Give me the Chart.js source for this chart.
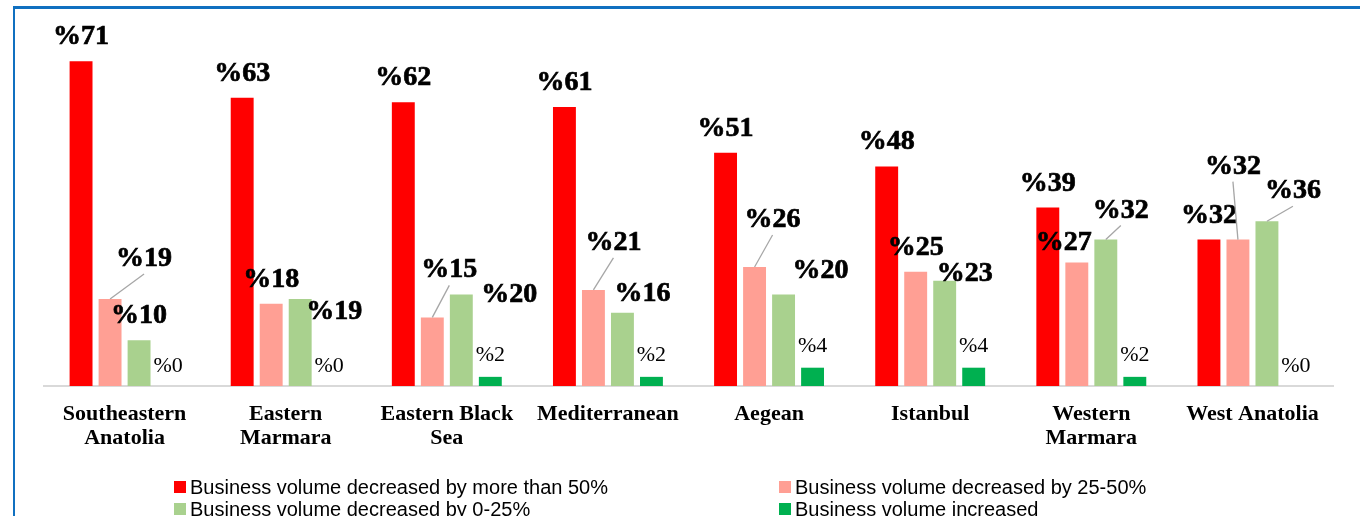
<!DOCTYPE html>
<html><head><meta charset="utf-8">
<script src="https://cdn.jsdelivr.net/npm/chart.js@4/dist/chart.umd.min.js"></script>
<style>
html,body{margin:0;padding:0;background:#fff;overflow:hidden}
#frame{position:absolute;left:13px;top:6px;width:1400px;height:600px;border-left:2px solid #1070C0;border-top:3px solid #1070C0;box-sizing:border-box}
#wrap{position:absolute;left:0;top:0;width:1360px;height:516px}
</style></head><body>
<div id="frame"></div>
<div id="wrap"><canvas id="c" width="1360" height="516"></canvas></div>
<script>
// ---- data ----
const categories = [["Southeastern","Anatolia"],["Eastern","Marmara"],["Eastern Black","Sea"],"Mediterranean","Aegean","Istanbul",["Western","Marmara"],"West Anatolia"];
const seriesNames = ["Business volume decreased by more than 50%","Business volume decreased by 25-50%","Business volume decreased by 0-25%","Business volume increased"];
const decreasedOver50 = [71,63,62,61,51,48,39,32];
const decreased25to50 = [19,18,15,21,26,25,27,32];
const decreased0to25 = [10,19,20,16,20,23,32,36];
const increased = [0,0,2,2,4,4,2,0];

// ---- styling ----
const colors = ["#FF0000","#FF9F94","#A9D18E","#00B050"];
// label placement offsets (dx, dy from bar top, label centre) and leader-line flag
const D = [0,-27,false];
const labelOffsets = [
  [D,D,D,D,D,D,D,D],
  [[34,-43,true],D,[17,-50,true],[20,-50,true],[18,-50,true],D,[-13,-22,false],[-5,-76,true]],
  [D,[34,10,false],[48,-3,false],[20,-22,false],[37,-27,false],[20,-10,false],[15,-32,true],[26,-33,true]],
  [[0,-22,false],[0,-22,false],[0,-23,false],[0,-23,false],[0,-23,false],[0,-23,false],[0,-23,false],[0,-22,false]]
];

const dataLabelPlugin = {
  id:'dataLabels',
  afterDatasetsDraw(chart){
    const ctx = chart.ctx;
    ctx.save();
    chart.data.datasets.forEach((ds,i)=>{
      const meta = chart.getDatasetMeta(i);
      meta.data.forEach((el,j)=>{
        const off = labelOffsets[i][j];
        const lx = el.x + off[0], ly = el.y + off[1];
        if (off[2]) {
          ctx.strokeStyle = '#A6A6A6'; ctx.lineWidth = 1.3;
          ctx.beginPath(); ctx.moveTo(el.x, el.y); ctx.lineTo(lx, ly + 18); ctx.stroke();
        }
        const txt = '%' + ds.data[j];
        ctx.fillStyle = '#000';
        ctx.textAlign = 'center'; ctx.textBaseline = 'alphabetic';
        if (i === 3) {
          ctx.font = '22px "Liberation Serif"';
          ctx.fillText(txt, lx, ly + 7.5);
        } else {
          ctx.font = 'bold 28px "Liberation Serif"';
          ctx.fillText(txt, lx, ly + 10);
          ctx.strokeStyle = '#000'; ctx.lineWidth = 0.7;
          ctx.strokeText(txt, lx, ly + 10);
        }
      });
    });
    ctx.restore();
  }
};

const legendPlugin = {
  id:'customLegend',
  afterDraw(chart){
    const ctx = chart.ctx;
    const colX = [174, 779], rowY = [481, 503];
    ctx.save();
    chart.data.datasets.forEach((ds,i)=>{
      const x = colX[i % 2], y = rowY[Math.floor(i / 2)];
      ctx.fillStyle = ds.backgroundColor;
      ctx.fillRect(x, y, 12, 12);
      ctx.fillStyle = '#000';
      ctx.font = '20px "Liberation Sans"';
      ctx.textAlign = 'left'; ctx.textBaseline = 'middle';
      ctx.fillText(ds.label, x + 16, y + 7);
    });
    ctx.restore();
  }
};

const seriesValues = [decreasedOver50, decreased25to50, decreased0to25, increased];

new Chart(document.getElementById('c'), {
  type:'bar',
  data:{
    labels: categories,
    datasets: seriesValues.map((v,i)=>({label: seriesNames[i], data: v, backgroundColor: colors[i], categoryPercentage:0.72, barPercentage:0.79}))
  },
  options:{
    responsive:false, animation:false, devicePixelRatio:1,
    layout:{padding:{left:44,right:27,top:20,bottom:0}},
    plugins:{legend:{display:false}, tooltip:{enabled:false}},
    scales:{
      x:{
        grid:{display:false, drawTicks:false},
        border:{display:true, color:'#D9D9D9', width:2},
        ticks:{color:'#000', font:{family:'"Liberation Serif"', weight:'bold', size:22, lineHeight:1.07}, padding:17, maxRotation:0, autoSkip:false},
        afterFit(s){ s.height = 130; }
      },
      y:{display:false, min:0, max:80}
    }
  },
  plugins:[dataLabelPlugin, legendPlugin]
});
</script>
</body></html>
